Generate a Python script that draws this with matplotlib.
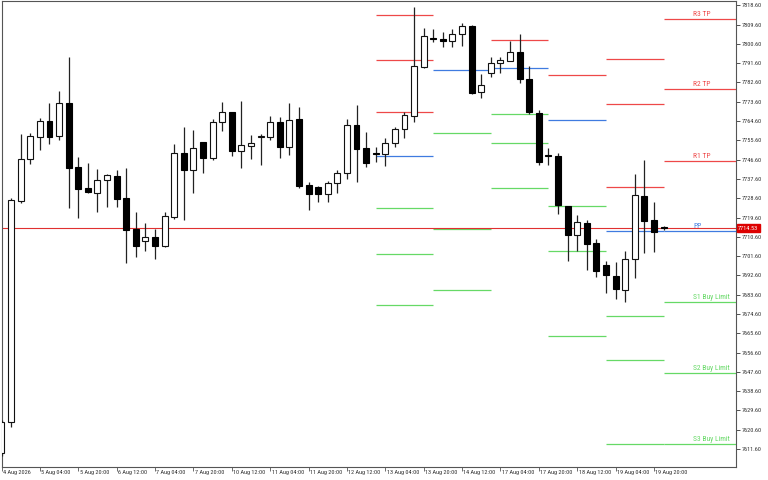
"""
H4 chart with daily pivot levels (R3..S3) and current price line.
Saves out.png (768x480).
"""
import matplotlib
matplotlib.use("Agg")  # no display
import matplotlib.pyplot as plt
from matplotlib import font_manager
import numpy as np

# narrow font if there is one, else Liberation Sans a bit smaller
_names = {f.name for f in font_manager.fontManager.ttflist}
FONT, FS, FS_LVL = "Liberation Sans", 3.9, 4.6
for cand in ["Liberation Sans Narrow", "Roboto Condensed"]:
    if cand in _names:
        FONT, FS, FS_LVL = cand, 4.5, 5.4
        break
plt.rcParams["font.family"] = [FONT, "DejaVu Sans"]
plt.rcParams["axes.unicode_minus"] = False

# --- candles (H4, bar 0 = 4 Aug 12:00) ---
opens = [7609.73, 7624.20, 7727.44, 7746.75, 7757.02, 7764.48, 7757.76, 7773.16, 7743.30, 7733.50,
         7731.03, 7736.96, 7739.10, 7728.70, 7714.24, 7708.78, 7710.36, 7706.45, 7719.98, 7749.55,
         7741.76, 7754.69, 7747.22, 7764.02, 7768.68, 7750.63, 7752.96, 7757.30, 7757.30, 7764.30,
         7752.35, 7765.42, 7734.76, 7733.69, 7730.57, 7735.84, 7740.50, 7762.76, 7751.89, 7749.55,
         7749.23, 7754.50, 7760.75, 7766.96, 7789.96, 7803.11, 7802.74, 7802.08, 7805.21, 7809.08,
         7778.15, 7786.88, 7791.54, 7792.75, 7796.95, 7784.08, 7768.49, 7748.85, 7748.29, 7724.97,
         7711.30, 7717.18, 7707.57, 7697.44, 7692.31, 7685.78, 7700.10, 7729.77, 7718.44, 7715.03]
highs = [7625.13, 7728.70, 7758.42, 7758.88, 7765.88, 7772.88, 7778.76, 7794.48, 7747.69, 7744.89,
         7742.09, 7739.90, 7741.76, 7742.56, 7722.03, 7717.18, 7714.24, 7722.03, 7753.75, 7761.68,
         7760.42, 7755.06, 7765.56, 7773.35, 7768.80, 7773.95, 7758.09, 7758.56, 7766.96, 7766.35,
         7773.16, 7771.01, 7736.30, 7734.07, 7736.63, 7741.76, 7765.56, 7772.09, 7759.35, 7752.63,
         7756.55, 7761.96, 7768.96, 7817.67, 7807.87, 7807.40, 7806.28, 7807.40, 7810.20, 7809.60,
         7786.55, 7794.34, 7794.34, 7802.08, 7805.21, 7790.28, 7769.75, 7751.89, 7749.83, 7725.20,
         7720.63, 7718.44, 7709.43, 7699.45, 7698.84, 7703.97, 7739.76, 7746.43, 7726.97, 7715.78]
lows = [7608.34, 7621.86, 7726.51, 7744.42, 7751.09, 7753.75, 7755.76, 7724.17, 7719.23, 7731.00,
        7722.03, 7724.64, 7724.64, 7698.52, 7701.31, 7703.97, 7700.24, 7705.84, 7719.04, 7718.44,
        7730.89, 7740.22, 7746.43, 7760.10, 7748.43, 7742.56, 7746.75, 7743.96, 7755.76, 7747.50,
        7748.76, 7733.23, 7723.10, 7726.97, 7726.97, 7731.17, 7737.42, 7736.30, 7743.02, 7745.63,
        7743.63, 7752.63, 7756.55, 7764.30, 7789.21, 7801.62, 7799.01, 7799.01, 7799.61, 7777.22,
        7775.21, 7785.01, 7786.88, 7792.75, 7782.21, 7767.75, 7744.10, 7744.10, 7721.23, 7699.45,
        7704.11, 7695.11, 7691.98, 7684.24, 7681.44, 7680.32, 7691.24, 7702.90, 7703.65, 7713.99]
closes = [7624.20, 7727.77, 7746.75, 7757.76, 7764.76, 7757.30, 7772.88, 7742.83, 7732.76, 7731.36,
          7737.10, 7739.29, 7728.37, 7713.77, 7706.45, 7710.36, 7706.45, 7720.16, 7749.55, 7741.76,
          7751.89, 7747.36, 7764.02, 7768.68, 7750.49, 7753.29, 7754.22, 7757.40, 7764.30, 7752.63,
          7765.09, 7734.30, 7730.57, 7730.57, 7735.84, 7740.50, 7762.76, 7751.56, 7744.89, 7749.46,
          7754.50, 7760.89, 7767.42, 7790.28, 7804.28, 7802.97, 7802.08, 7805.21, 7808.94, 7777.82,
          7781.56, 7791.54, 7793.08, 7796.67, 7784.22, 7768.68, 7745.63, 7748.48, 7725.29, 7711.44,
          7717.36, 7707.24, 7694.78, 7692.78, 7686.11, 7700.10, 7730.10, 7717.97, 7712.70, 7714.53]

# --- daily pivot levels (first bar of each day) ---
day_start = [39, 45, 51, 57, 63, 69]
r3 = [7814.07, 7907.5, 7837.8, 7847.0, 7793.55, 7812.07]
r2 = [7792.94, 7862.6, 7824.0, 7826.1, 7772.55, 7779.41]
r1 = [7768.96, 7833.4, 7802.41, 7786.08, 7733.69, 7745.96]
pp = [7748.15, 7788.28, 7789.21, 7765.09, 7713.16, 7713.30]
s1 = [7723.89, 7759.16, 7767.75, 7725.11, 7673.88, 7680.04]
s2 = [7702.57, 7714.47, 7754.36, 7704.11, 7652.98, 7646.92]
s3 = [7678.78, 7685.78, 7733.23, 7664.32, 7613.98, 7613.79]
level_names = ["R3 TP", "R2 TP", "R1 TP", "PP", "S1 Buy Limit", "S2 Buy Limit", "S3 Buy Limit"]

current_price = 7714.53

x_tick_bars = list(range(0, 69, 4))
x_tick_labels = ["4 Aug 2026", "5 Aug 04:00", "5 Aug 20:00", "6 Aug 12:00", "7 Aug 04:00",
                 "7 Aug 20:00", "10 Aug 12:00", "11 Aug 04:00", "11 Aug 20:00", "12 Aug 12:00",
                 "13 Aug 04:00", "13 Aug 20:00", "14 Aug 12:00", "17 Aug 04:00", "17 Aug 20:00",
                 "18 Aug 12:00", "19 Aug 04:00", "19 Aug 20:00"]
y_ticks = np.arange(7611.6, 7818.7, 9.0)

RED = "#ee4848"
GREEN = "#66d966"
BLUE = "#3f7be0"

fig = plt.figure(figsize=(7.68, 4.8), dpi=100)
ax = fig.add_axes([1.5 / 768, 13.5 / 480, 734.5 / 768, 465.5 / 480])
ax.set_xlim(0.0, 76.55)
ax.set_ylim(7603.44, 7820.61)

# pivot segments
x_end = day_start[1:] + [ax.get_xlim()[1]]
levels = [r3, r2, r1, pp, s1, s2, s3]
colors = [RED, RED, RED, BLUE, GREEN, GREEN, GREEN]
for vals, col in zip(levels, colors):
    ax.hlines(vals, day_start, x_end, colors=col, lw=0.9, zorder=2)

# labels on the current day
for vals, col, name in zip(levels, colors, level_names):
    ax.annotate(name, xy=(72.1, vals[-1]), xytext=(0, 0.9), textcoords="offset points",
                ha="left", va="bottom", color=col, fontsize=FS_LVL, zorder=6)

# current price line
ax.axhline(current_price, color="#e03030", lw=0.8, zorder=2.5)

# candles
x = np.arange(len(opens))
o = np.array(opens)
c = np.array(closes)
up = c >= o
bottom = np.minimum(o, c)
height = np.maximum(np.abs(c - o), 0.15)
ax.vlines(x, lows, highs, colors="#222222", lw=0.9, zorder=3)
ax.bar(x[up], height[up], bottom=bottom[up], width=0.62, facecolor="white",
       edgecolor="#111111", lw=0.8, zorder=4)
ax.bar(x[~up], height[~up], bottom=bottom[~up], width=0.62, facecolor="black",
       edgecolor="black", lw=0.8, zorder=4)

# axes styling
for sp in ax.spines.values():
    sp.set_color("#555555")
    sp.set_linewidth(0.8)
ax.yaxis.tick_right()
ax.set_yticks(y_ticks)
ax.set_yticklabels([f"{v:.2f}" for v in y_ticks])
ax.tick_params(axis="y", length=3, width=0.6, pad=1, labelsize=FS, colors="#333333")
ax.set_xticks(x_tick_bars)
ax.set_xticklabels([])
ax.tick_params(axis="x", length=3, width=0.6, colors="#555555")
for b, lbl in zip(x_tick_bars, x_tick_labels):
    ax.annotate(lbl, xy=(b, 0), xycoords=("data", "axes fraction"), xytext=(1.0, -2.2),
                textcoords="offset points", ha="left", va="top", fontsize=FS,
                color="#333333", annotation_clip=False)

# price tag on the right axis
ax.annotate(f"{current_price:.2f}", xy=(1, current_price), xycoords=("axes fraction", "data"),
            xytext=(1.6, 0), textcoords="offset points", ha="left", va="center",
            color="white", fontsize=FS, annotation_clip=False, zorder=10,
            bbox=dict(boxstyle="square,pad=0.25", fc="#dd0000", ec="#dd0000"))

fig.savefig("out.png", dpi=100)
